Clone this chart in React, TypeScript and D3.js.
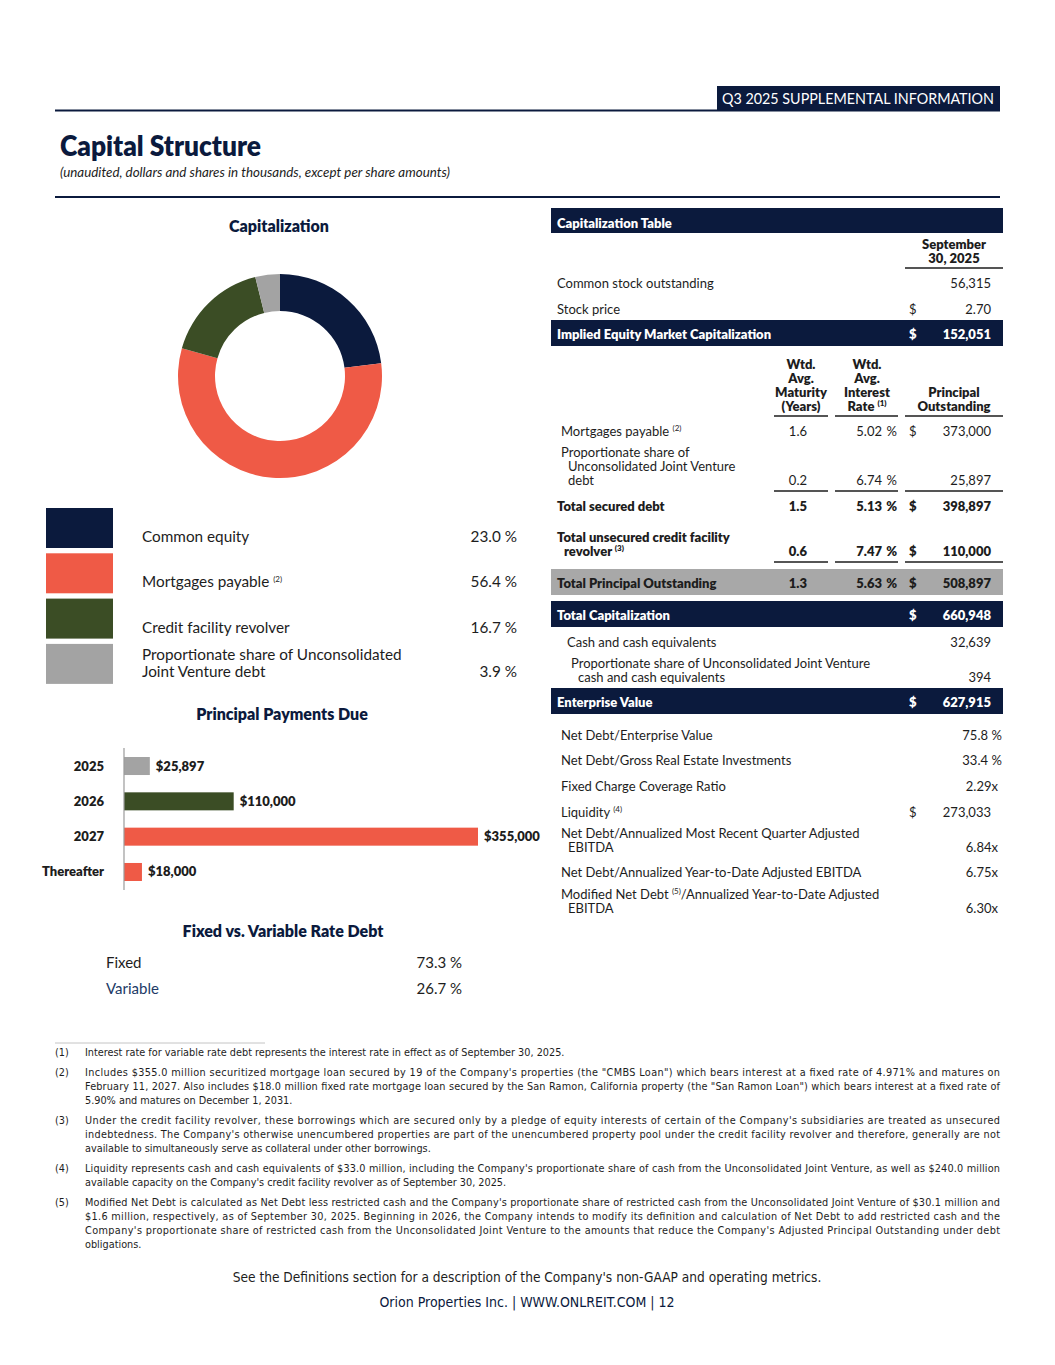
import React from "react";
import * as d3 from "d3";

const NAVY = "#0b1a3d";
const RED = "#ef5a46";
const GREEN = "#3b4d25";
const GRAY = "#a3a3a3";
const ROW_GRAY = "#a8a8a8";
const INK = "#1d1d1d";
const FONT = "Lato, 'Open Sans', sans-serif";
const NARROW = "'Liberation Sans Narrow', 'DejaVu Sans Condensed', sans-serif";

// capitalization mix, % of total capitalization
const capLegend = [["Common equity"], ["Mortgages payable {(2)}"], ["Credit facility revolver"], ["Proportionate share of Unconsolidated", "Joint Venture debt"]];
const capShares = [23.0, 56.4, 16.7, 3.9];
const capColors = [NAVY, RED, GREEN, GRAY];

// principal payments due ($ thousands)
const payYears = ["2025", "2026", "2027", "Thereafter"];
const payAmounts = [25897, 110000, 355000, 18000];
const payColors = [GRAY, GREEN, RED, RED];

const rateTypes = ["Fixed", "Variable"];
const rateShares = [73.3, 26.7];

// capitalization table
const commonShares = 56315;
const stockPrice = 2.7;
const marketCap = 152051;

const debtLabels = [["Mortgages payable {(2)}"], ["Proportionate share of", "Unconsolidated Joint Venture", "debt"], ["Total secured debt"], ["Total unsecured credit facility", "revolver {(3)}"], ["Total Principal Outstanding"]];
const debtMaturity = [1.6, 0.2, 1.5, 0.6, 1.3];
const debtRate = [5.02, 6.74, 5.13, 7.47, 5.63];
const debtPrincipal = [373000, 25897, 398897, 110000, 508897];
const debtDollar = [true, false, true, true, true];
const debtBold = [false, false, true, true, true];

const totalCap = 660948;
const cashLabels = [["Cash and cash equivalents"], ["Proportionate share of Unconsolidated Joint Venture", "cash and cash equivalents"]];
const cashValues = [32639, 394];
const enterpriseValue = 627915;

const metricLabels = [["Net Debt/Enterprise Value"], ["Net Debt/Gross Real Estate Investments"], ["Fixed Charge Coverage Ratio"], ["Liquidity {(4)}"], ["Net Debt/Annualized Most Recent Quarter Adjusted", "EBITDA"], ["Net Debt/Annualized Year-to-Date Adjusted EBITDA"], ["Modified Net Debt {(5)}/Annualized Year-to-Date Adjusted", "EBITDA"]];
const metricValues = [75.8, 33.4, 2.29, 273033, 6.84, 6.75, 6.3];
const metricUnits = ["%", "%", "x", "$", "x", "x", "x"];

const footIds = ["(1)", "(2)", "(3)", "(4)", "(5)"];
const footLines = [
  ["Interest rate for variable rate debt represents the interest rate in effect as of September 30, 2025."],
  [
    "Includes $355.0 million securitized mortgage loan secured by 19 of the Company's properties (the \"CMBS Loan\") which bears interest at a fixed rate of 4.971% and matures on",
    "February 11, 2027. Also includes $18.0 million fixed rate mortgage loan secured by the San Ramon, California property (the \"San Ramon Loan\") which bears interest at a fixed rate of",
    "5.90% and matures on December 1, 2031.",
  ],
  [
    "Under the credit facility revolver, these borrowings which are secured only by a pledge of equity interests of certain of the Company's subsidiaries are treated as unsecured",
    "indebtedness. The Company's otherwise unencumbered properties are part of the unencumbered property pool under the credit facility revolver and therefore, generally are not",
    "available to simultaneously serve as collateral under other borrowings.",
  ],
  [
    "Liquidity represents cash and cash equivalents of $33.0 million, including the Company's proportionate share of cash from the Unconsolidated Joint Venture, as well as $240.0 million",
    "available capacity on the Company's credit facility revolver as of September 30, 2025.",
  ],
  [
    "Modified Net Debt is calculated as Net Debt less restricted cash and the Company's proportionate share of restricted cash from the Unconsolidated Joint Venture of $30.1 million and",
    "$1.6 million, respectively, as of September 30, 2025. Beginning in 2026, the Company intends to modify its definition and calculation of Net Debt to add restricted cash and the",
    "Company's proportionate share of restricted cash from the Unconsolidated Joint Venture to the amounts that reduce the Company's Adjusted Principal Outstanding under debt",
    "obligations.",
  ],
];

const fmtInt = d3.format(",");
const fmt1 = d3.format(".1f");
const fmt2 = d3.format(".2f");

// text with {(n)} superscript markers
function Rich({ s }: { s: string }) {
  const parts = s.split(/(\{[^}]*\})/).filter((p) => p !== "");
  return (
    <>
      {parts.map((p, i) =>
        p.startsWith("{") ? (
          <tspan key={i} fontSize="8" dy={-5}>
            {p.slice(1, -1)}
          </tspan>
        ) : (
          <tspan key={i} dy={i > 0 && parts[i - 1].startsWith("{") ? 5 : 0}>
            {p}
          </tspan>
        )
      )}
    </>
  );
}

function Band({ y, label, value, fill, color }: { y: number; label: string; value: string; fill: string; color: string }) {
  return (
    <g>
      <rect x={551} y={y} width={452} height={26} fill={fill} />
      <text x={557} y={y + 19} fill={color} fontWeight={800} fontSize={13}>{label}</text>
      <text x={909} y={y + 19} fill={color} fontWeight={800} fontSize={13}>$</text>
      <text x={991} y={y + 19} fill={color} fontWeight={800} fontSize={13} textAnchor="end">{value}</text>
    </g>
  );
}

export default function App() {
  // donut
  const pie = d3.pie<number>().sort(null).value((d) => d)(capShares);
  const arc = d3.arc<d3.PieArcDatum<number>>().innerRadius(65).outerRadius(102);

  // bars
  const y = d3.scaleBand<string>().domain(payYears).range([748, 890]).paddingInner(0.49).paddingOuter(0.255);
  const x = d3.scaleLinear().domain([0, 355000]).range([124, 478]);

  const debtY = [436, 485, 511, 556, 588];
  const metricY = [740, 765, 791, 817, 852, 877, 913];

  // footnote baselines
  let cursor = 1056;
  const footY = footLines.map((lines, i) => {
    if (i > 0) cursor += 20;
    const ys = lines.map((_, j) => (j === 0 ? cursor : (cursor += 14)));
    return ys;
  });

  const underline = (yy: number, key: string) =>
    [[774, 828], [835, 898], [905, 1003]].map(([a, b], k) => (
      <line key={key + k} x1={a} x2={b} y1={yy} y2={yy} stroke={INK} strokeWidth={1.5} />
    ));

  return (
    <svg width={1055} height={1365} style={{ position: "absolute", left: 0, top: 0, background: "#fff" }} fontFamily={FONT}>
      {/* page header */}
      <rect x={717} y={86} width={283} height={25} fill={NAVY} />
      <text x={858} y={104} fill="#fff" fontSize={15} textAnchor="middle" textLength={272} lengthAdjust="spacingAndGlyphs">
        Q3 2025 SUPPLEMENTAL INFORMATION
      </text>
      <line x1={55} x2={1000} y1={110.5} y2={110.5} stroke={NAVY} strokeWidth={2} />
      <text x={60} y={156} fill={NAVY} fontSize={28} fontWeight={800} textLength={201} lengthAdjust="spacingAndGlyphs">
        Capital Structure
      </text>
      <text x={60} y={177} fill={INK} fontSize={12.5} fontStyle="italic" textLength={390} lengthAdjust="spacingAndGlyphs">
        (unaudited, dollars and shares in thousands, except per share amounts)
      </text>
      <line x1={55} x2={1000} y1={197} y2={197} stroke={NAVY} strokeWidth={2} />

      {/* capitalization donut */}
      <text x={279} y={232} fill={NAVY} fontSize={16} fontWeight={800} textAnchor="middle">Capitalization</text>
      <g transform="translate(280,376)">
        {pie.map((d, i) => (
          <path key={i} d={arc(d) || ""} fill={capColors[i]} />
        ))}
      </g>
      {capLegend.map((lines, i) => {
        const top = 508 + i * 45.3;
        const lastY = lines.length === 1 ? top + 34 : top + 33;
        return (
          <g key={i}>
            <rect x={46} y={top} width={67} height={40} fill={capColors[i]} />
            {lines.map((l, j) => (
              <text key={j} x={142} y={lines.length === 1 ? lastY : top + 16 + j * 17} fill={INK} fontSize={15.3}>
                <Rich s={l} />
              </text>
            ))}
            <text x={517} y={lastY} fill={INK} fontSize={15.3} textAnchor="end">{fmt1(capShares[i])} %</text>
          </g>
        );
      })}

      {/* principal payments due */}
      <text x={282} y={720} fill={NAVY} fontSize={16} fontWeight={800} textAnchor="middle">Principal Payments Due</text>
      {payYears.map((yr, i) => (
        <g key={yr}>
          <rect x={x(0)} y={y(yr)} width={x(payAmounts[i]) - x(0)} height={y.bandwidth()} fill={payColors[i]} />
          <text x={104} y={(y(yr) as number) + y.bandwidth() / 2 + 4.5} fill={INK} fontSize={13} fontWeight={800} textAnchor="end">{yr}</text>
          <text x={x(payAmounts[i]) + 6} y={(y(yr) as number) + y.bandwidth() / 2 + 4.5} fill={INK} fontSize={13} fontWeight={800}>
            ${fmtInt(payAmounts[i])}
          </text>
        </g>
      ))}
      <line x1={124} x2={124} y1={748} y2={890} stroke="#9a9a9a" strokeWidth={1.2} />

      {/* fixed vs variable */}
      <text x={283} y={937} fill={NAVY} fontSize={16} fontWeight={800} textAnchor="middle">Fixed vs. Variable Rate Debt</text>
      {rateTypes.map((t, i) => (
        <g key={t}>
          <text x={106} y={968 + i * 26} fill={i === 0 ? INK : "#213a66"} fontSize={15}>{t}</text>
          <text x={462} y={968 + i * 26} fill={INK} fontSize={15} textAnchor="end">{fmt1(rateShares[i])} %</text>
        </g>
      ))}

      {/* capitalization table */}
      <g fontSize={13} fill={INK}>
        <rect x={551} y={208} width={452} height={25} fill={NAVY} />
        <text x={557} y={228} fill="#fff" fontWeight={800}>Capitalization Table</text>
        <text x={954} y={249} fontWeight={800} textAnchor="middle">September</text>
        <text x={954} y={263} fontWeight={800} textAnchor="middle">30, 2025</text>
        <line x1={905} x2={1003} y1={268} y2={268} stroke={INK} strokeWidth={1.5} />

        <text x={557} y={288}>Common stock outstanding</text>
        <text x={991} y={288} textAnchor="end">{fmtInt(commonShares)}</text>
        <text x={557} y={314}>Stock price</text>
        <text x={909} y={314}>$</text>
        <text x={991} y={314} textAnchor="end">{fmt2(stockPrice)}</text>
      </g>
      <Band y={320} label="Implied Equity Market Capitalization" value={fmtInt(marketCap)} fill={NAVY} color="#fff" />

      <g fontSize={13} fill={INK} fontWeight={800} textAnchor="middle">
        {["Wtd.", "Avg.", "Maturity", "(Years)"].map((t, i) => (
          <text key={"m" + i} x={801} y={369 + i * 14}>{t}</text>
        ))}
        {["Wtd.", "Avg.", "Interest", "Rate {(1)}"].map((t, i) => (
          <text key={"r" + i} x={867} y={369 + i * 14}><Rich s={t} /></text>
        ))}
        <text x={954} y={397}>Principal</text>
        <text x={954} y={411}>Outstanding</text>
      </g>
      {underline(416, "u1")}

      <rect x={551} y={569} width={452} height={26} fill={ROW_GRAY} />
      {debtLabels.map((lines, i) => {
        const by = debtY[i];
        const w = debtBold[i] ? 800 : 400;
        const lx = debtBold[i] ? 557 : 561;
        return (
          <g key={i} fontSize={13} fill={INK} fontWeight={w}>
            {lines.map((l, j) => (
              <text key={j} x={j === 0 ? lx : lx + 7} y={by - (lines.length - 1 - j) * 14}>
                <Rich s={l} />
              </text>
            ))}
            <text x={807} y={by} textAnchor="end">{fmt1(debtMaturity[i])}</text>
            <text x={882} y={by} textAnchor="end">{fmt2(debtRate[i])}</text>
            <text x={897} y={by} textAnchor="end">%</text>
            {debtDollar[i] && <text x={909} y={by}>$</text>}
            <text x={991} y={by} textAnchor="end">{fmtInt(debtPrincipal[i])}</text>
          </g>
        );
      })}
      {underline(491, "u2")}
      {underline(562, "u3")}

      <Band y={601} label="Total Capitalization" value={fmtInt(totalCap)} fill={NAVY} color="#fff" />
      {cashLabels.map((lines, i) => {
        const by = i === 0 ? 647 : 682;
        return (
          <g key={i} fontSize={13} fill={INK}>
            {lines.map((l, j) => (
              <text key={j} x={i === 0 ? 567 : 571 + j * 7} y={by - (lines.length - 1 - j) * 14}>{l}</text>
            ))}
            <text x={991} y={by} textAnchor="end">{fmtInt(cashValues[i])}</text>
          </g>
        );
      })}
      <Band y={688} label="Enterprise Value" value={fmtInt(enterpriseValue)} fill={NAVY} color="#fff" />

      {metricLabels.map((lines, i) => {
        const by = metricY[i];
        const u = metricUnits[i];
        const v = metricValues[i];
        return (
          <g key={i} fontSize={13} fill={INK}>
            {lines.map((l, j) => (
              <text key={j} x={j === 0 ? 561 : 568} y={by - (lines.length - 1 - j) * 14}>
                <Rich s={l} />
              </text>
            ))}
            {u === "%" && (
              <>
                <text x={988} y={by} textAnchor="end">{fmt1(v)}</text>
                <text x={1002} y={by} textAnchor="end">%</text>
              </>
            )}
            {u === "x" && <text x={998} y={by} textAnchor="end">{fmt2(v)}x</text>}
            {u === "$" && (
              <>
                <text x={909} y={by}>$</text>
                <text x={991} y={by} textAnchor="end">{fmtInt(v)}</text>
              </>
            )}
          </g>
        );
      })}

      {/* footnotes */}
      <line x1={55} x2={265} y1={1043} y2={1043} stroke="#b5b5b5" strokeWidth={0.8} />
      <g fontFamily={NARROW} fontSize={10.8} fill={INK}>
        {footLines.map((lines, i) => (
          <g key={i}>
            <text x={55} y={footY[i][0]}>{footIds[i]}</text>
            {lines.map((l, j) =>
              j < lines.length - 1 ? (
                <text key={j} x={85} y={footY[i][j]} textLength={915} lengthAdjust="spacing">{l}</text>
              ) : (
                <text key={j} x={85} y={footY[i][j]}>{l}</text>
              )
            )}
          </g>
        ))}
      </g>
      <text x={527} y={1282} fill={INK} fontFamily={NARROW} fontSize={13.6} textAnchor="middle">
        See the Definitions section for a description of the Company's non-GAAP and operating metrics.
      </text>
      <text x={527} y={1307} fill={NAVY} fontFamily={NARROW} fontSize={14} textAnchor="middle">
        {"Orion Properties Inc.  |  WWW.ONLREIT.COM  |  12"}
      </text>
    </svg>
  );
}
